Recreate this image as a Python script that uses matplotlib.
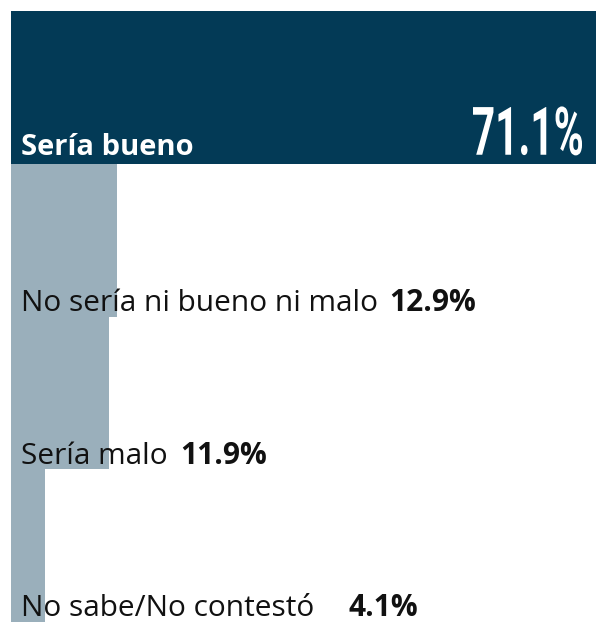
import matplotlib
matplotlib.use("Agg")
import matplotlib.pyplot as plt
from matplotlib.textpath import TextPath
from matplotlib.patches import PathPatch
from matplotlib.font_manager import FontProperties
from matplotlib.transforms import Affine2D

labels = ["Sería bueno", "No sería ni bueno ni malo", "Sería malo", "No sabe/No contestó"]
values = [71.1, 12.9, 11.9, 4.1]
value_text = ["71.1%", "12.9%", "11.9%", "4.1%"]

navy = "#033a56"
gray = "#9aafbb"
bar_colors = [navy, gray, gray, gray]
gaps = [0, 8, 9, 25]  # points between label and value

plt.rcParams['font.family'] = ['Open Sans', 'DejaVu Sans']

fig = plt.figure(figsize=(5.98, 6.22), dpi=100)
ax = fig.add_axes([11/598, 0, 585/598, 611/622])
ax.barh(range(len(values)), values, height=1.0, left=0, color=bar_colors)
ax.set_xlim(0, max(values))
ax.set_ylim(len(values) - 0.5, -0.5)
ax.axis("off")

# top category: white label
ax.annotate(labels[0], xy=(0, 0.5), xytext=(7, 6), textcoords="offset points",
            color="white", fontsize=21, fontweight="bold", va="baseline", ha="left")

# big condensed number, squeezed horizontally
tp = TextPath((0, 0), value_text[0], size=70, prop=FontProperties(family="Roboto", weight="bold"))
ext = tp.get_extents()
sx = 109 / ext.width
sy = 49 / ext.height
px, py = ax.transData.transform((values[0], 0.5))
tr = Affine2D().translate(-ext.x1, 0).scale(sx, sy).translate(px - 14, py + 9)
ax.add_patch(PathPatch(tp, transform=tr, facecolor="white", edgecolor="none"))

for i in range(1, len(values)):
    t = ax.annotate(labels[i], xy=(0, i + 0.5), xytext=(7, 4), textcoords="offset points",
                    color="#111111", fontsize=21.5, va="baseline", ha="left")
    ax.annotate(value_text[i], xy=(1, 0), xycoords=t, xytext=(gaps[i], 0),
                textcoords="offset points", color="#111111", fontsize=21.5,
                fontweight="bold", va="bottom", ha="left")

fig.savefig("out.png", dpi=100)
